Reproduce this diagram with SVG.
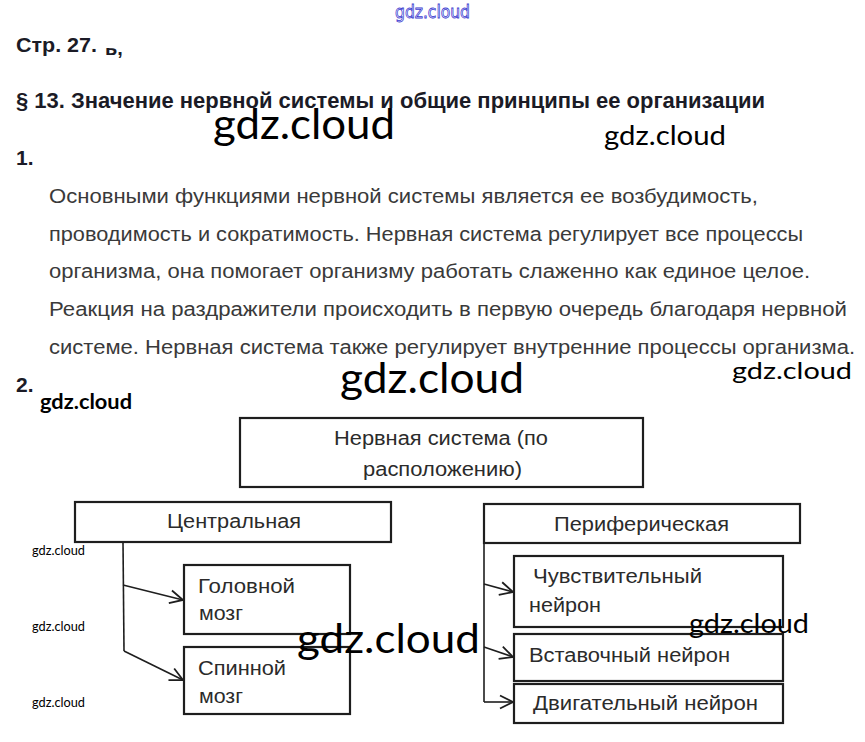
<svg xmlns="http://www.w3.org/2000/svg" width="865" height="742" viewBox="0 0 865 742">
<style>
.h{font-family:"Liberation Sans",Arial,sans-serif;font-weight:bold;fill:#1b1b26}
.p{font-family:"Liberation Sans",Arial,sans-serif;font-size:20px;fill:#3a3a3a}
.n{font-family:"Liberation Sans",Arial,sans-serif;font-size:20px;fill:#2b2b2b}
.w{font-family:Lato,"Open Sans",sans-serif;fill:#000}
.box{fill:#fff;stroke:#1e1e1e;stroke-width:2.2}
.con{fill:none;stroke:#1e1e1e;stroke-width:1.6}
</style>
<defs>
<marker id="arr" markerUnits="userSpaceOnUse" markerWidth="16" markerHeight="16" viewBox="0 0 16 16" refX="14" refY="8" orient="auto">
<path d="M1,1.5 L14,8 L1,14.5" fill="none" stroke="#1e1e1e" stroke-width="1.8"/>
</marker>
<clipPath id="artclip"><rect x="100" y="48" width="30" height="10"/></clipPath>
</defs>
<rect width="865" height="742" fill="#fff"/>

<text x="395" y="18" textLength="75" lengthAdjust="spacingAndGlyphs" style="font-family:'DejaVu Sans',sans-serif;font-size:17px;fill:#fff;stroke:#3a3ad0;stroke-width:0.8">gdz.cloud</text>

<text class="h" x="16" y="52" font-size="21" textLength="81" lengthAdjust="spacingAndGlyphs">Стр. 27.</text>
<text class="h" x="105" y="55" font-size="20" clip-path="url(#artclip)">ь,</text>
<text class="h" x="16" y="108" font-size="22" textLength="749" lengthAdjust="spacingAndGlyphs">§ 13. Значение нервной системы и общие принципы ее организации</text>
<text class="h" x="16" y="165" font-size="21">1.</text>

<text class="p" x="49" y="203" textLength="709" lengthAdjust="spacingAndGlyphs">Основными функциями нервной системы является ее возбудимость,</text>
<text class="p" x="49" y="241" textLength="754" lengthAdjust="spacingAndGlyphs">проводимость и сократимость. Нервная система регулирует все процессы</text>
<text class="p" x="49" y="278" textLength="761" lengthAdjust="spacingAndGlyphs">организма, она помогает организму работать слаженно как единое целое.</text>
<text class="p" x="49" y="316" textLength="798" lengthAdjust="spacingAndGlyphs">Реакция на раздражители происходить в первую очередь благодаря нервной</text>
<text class="p" x="49" y="354" textLength="806" lengthAdjust="spacingAndGlyphs">системе. Нервная система также регулирует внутренние процессы организма.</text>

<text class="h" x="16" y="392" font-size="21">2.</text>

<g id="connectors">
<path class="con" d="M123,542 L124,651"/>
<path class="con" d="M123,585 L183,600" marker-end="url(#arr)"/>
<path class="con" d="M124,651 L183,680" marker-end="url(#arr)"/>
<path class="con" d="M484,543 L484,702"/>
<path class="con" d="M484,584 L513,592" marker-end="url(#arr)"/>
<path class="con" d="M484,647 L513,657" marker-end="url(#arr)"/>
<path class="con" d="M484,702 L513,702" marker-end="url(#arr)"/>
</g>

<g id="node-root">
<rect class="box" x="240" y="418" width="403" height="69"/>
<text class="n" x="334" y="445" textLength="214" lengthAdjust="spacingAndGlyphs">Нервная система (по</text>
<text class="n" x="363" y="476" textLength="159" lengthAdjust="spacingAndGlyphs">расположению)</text>
</g>
<g id="node-central">
<rect class="box" x="75" y="502" width="316" height="40"/>
<text class="n" x="167" y="528" textLength="134" lengthAdjust="spacingAndGlyphs">Центральная</text>
</g>
<g id="node-brain">
<rect class="box" x="184" y="565" width="166" height="69"/>
<text class="n" x="198" y="593" textLength="97" lengthAdjust="spacingAndGlyphs">Головной</text>
<text class="n" x="199" y="620" textLength="44" lengthAdjust="spacingAndGlyphs">мозг</text>
</g>
<g id="node-spinal">
<rect class="box" x="184" y="647" width="166" height="67"/>
<text class="n" x="198" y="675" textLength="88" lengthAdjust="spacingAndGlyphs">Спинной</text>
<text class="n" x="199" y="703" textLength="44" lengthAdjust="spacingAndGlyphs">мозг</text>
</g>
<g id="node-peripheral">
<rect class="box" x="484" y="504" width="316" height="39"/>
<text class="n" x="554" y="531" textLength="175" lengthAdjust="spacingAndGlyphs">Периферическая</text>
</g>
<g id="node-sensory">
<rect class="box" x="514" y="556" width="269" height="71"/>
<text class="n" x="533" y="583" textLength="169" lengthAdjust="spacingAndGlyphs">Чувствительный</text>
<text class="n" x="529" y="612" textLength="72" lengthAdjust="spacingAndGlyphs">нейрон</text>
</g>
<g id="node-inter">
<rect class="box" x="514" y="634" width="269" height="47"/>
<text class="n" x="529" y="662" textLength="201" lengthAdjust="spacingAndGlyphs">Вставочный нейрон</text>
</g>
<g id="node-motor">
<rect class="box" x="514" y="684" width="269" height="39"/>
<text class="n" x="533" y="710" textLength="225" lengthAdjust="spacingAndGlyphs">Двигательный нейрон</text>
</g>

<text class="w" x="213" y="139" font-size="42" textLength="182" lengthAdjust="spacingAndGlyphs">gdz.cloud</text>
<text class="w" x="604" y="145" font-size="27" textLength="122" lengthAdjust="spacingAndGlyphs">gdz.cloud</text>
<text class="w" x="340" y="393" font-size="42" textLength="184" lengthAdjust="spacingAndGlyphs">gdz.cloud</text>
<text class="w" x="732" y="379" font-size="23" textLength="120" lengthAdjust="spacingAndGlyphs">gdz.cloud</text>
<text class="w" x="40" y="409" font-size="20" font-weight="bold" textLength="92" lengthAdjust="spacingAndGlyphs">gdz.cloud</text>
<text class="w" x="32" y="555" font-size="13" textLength="53" lengthAdjust="spacingAndGlyphs">gdz.cloud</text>
<text class="w" x="32" y="631" font-size="13" textLength="53" lengthAdjust="spacingAndGlyphs">gdz.cloud</text>
<text class="w" x="32" y="707" font-size="13" textLength="53" lengthAdjust="spacingAndGlyphs">gdz.cloud</text>
<text class="w" x="297" y="653" font-size="41" textLength="183" lengthAdjust="spacingAndGlyphs">gdz.cloud</text>
<text class="w" x="689" y="633" font-size="27" textLength="120" lengthAdjust="spacingAndGlyphs">gdz.cloud</text>
</svg>
